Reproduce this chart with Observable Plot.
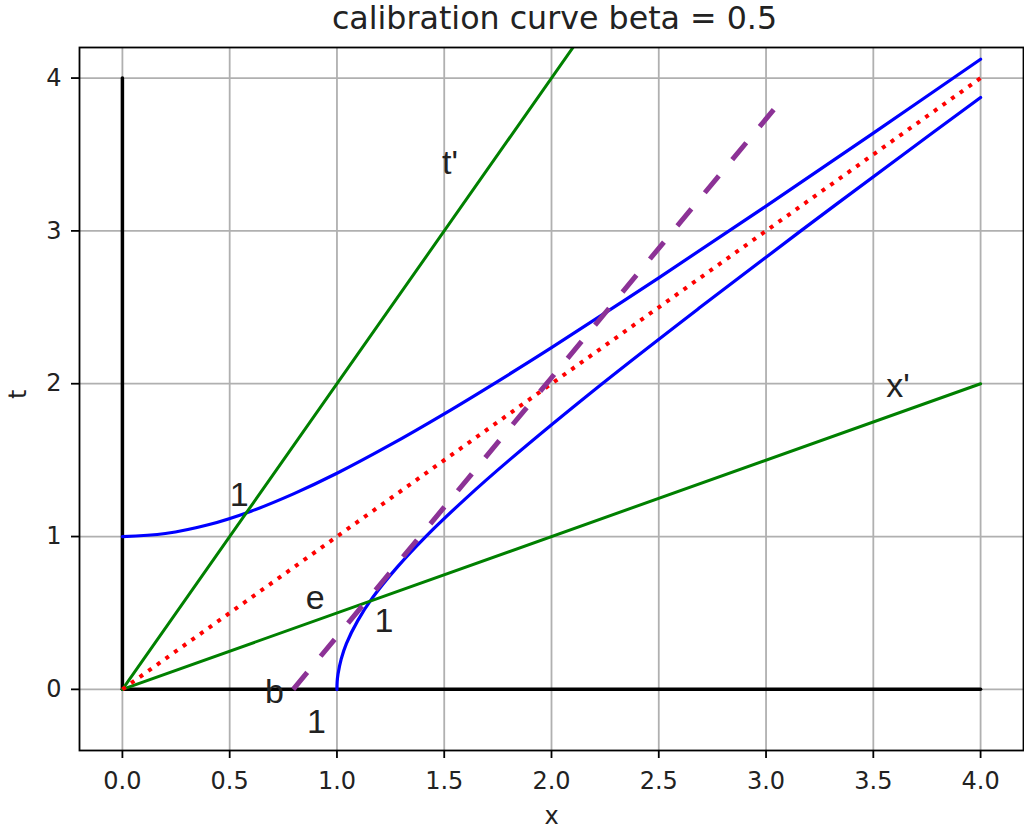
<!DOCTYPE html>
<html><head><meta charset="utf-8">
<script src="https://cdn.jsdelivr.net/npm/d3@7"></script>
<script src="https://cdn.jsdelivr.net/npm/@observablehq/plot@0.6"></script>
<style>body{margin:0;background:#fff}</style>
</head><body><div id="chart"></div>
<script>
// tick values
const xTicks = [0, 0.5, 1, 1.5, 2, 2.5, 3, 3.5, 4];
const tTicks = [0, 1, 2, 3, 4];

// upper blue hyperbola
const upperX = [0, 0.2, 0.4, 0.6, 0.8, 1.0, 1.25, 1.5, 1.75, 2.0, 2.5, 3.0, 3.5, 4.0];
const upperT = [1.000, 1.020, 1.077, 1.166, 1.281, 1.414, 1.601, 1.803, 2.016, 2.236, 2.693, 3.162, 3.640, 4.123];

// right blue hyperbola
const rightT = [0, 0.05, 0.1, 0.2, 0.3, 0.45, 0.6, 0.8, 1.0, 1.25, 1.5, 2.0, 2.5, 3.0, 3.5, 3.873];
const rightX = [1.000, 1.001, 1.005, 1.020, 1.044, 1.097, 1.166, 1.281, 1.414, 1.601, 1.803, 2.236, 2.693, 3.162, 3.640, 4.000];

// straight lines: [x0, t0, x1, t1]
const tAxisLine = [0, 0, 0, 4];
const xAxisLine = [0, 0, 4, 0];
const tPrimeLine = [0, 0, 4, 8];
const xPrimeLine = [0, 0, 4, 2];
const lightLine = [0, 0, 4, 4];
const purpleLine = [0.796, 0, 3.075, 3.86];

// annotations
const annoText = ["1", "e", "1", "b", "1", "t'", "x'"];
const annoX = [0.5, 0.855, 1.175, 0.665, 0.86, 1.49, 3.56];
const annoT = [1.2, 0.525, 0.375, -0.09, -0.285, 3.37, 1.91];

const pts = (xs, ts) => xs.map((x, i) => ({x, t: ts[i]}));
const seg = a => [{x: a[0], t: a[1]}, {x: a[2], t: a[3]}];
const upper = pts(upperX, upperT);
const right = pts(rightX, rightT);
const annos = annoText.map((s, i) => ({s, x: annoX[i], t: annoT[i]}));

const chart = Plot.plot({
  width: 1024,
  height: 830,
  marginLeft: 79,
  marginRight: 1,
  marginTop: 47,
  marginBottom: 80,
  style: {fontFamily: "DejaVu Sans", fontSize: "24px", background: "#fff", color: "#000"},
  x: {domain: [-0.2, 4.2]},
  y: {domain: [-0.4, 4.2]},
  marks: [
    Plot.ruleX(xTicks, {stroke: "#b0b0b0", strokeWidth: 1.8}),
    Plot.ruleY(tTicks, {stroke: "#b0b0b0", strokeWidth: 1.8}),
    Plot.line(seg(tAxisLine), {x: "x", y: "t", stroke: "black", strokeWidth: 3.5}),
    Plot.line(seg(xAxisLine), {x: "x", y: "t", stroke: "black", strokeWidth: 3.5}),
    Plot.line(upper, {x: "x", y: "t", stroke: "blue", strokeWidth: 3.2, curve: "catmull-rom"}),
    Plot.line(right, {x: "x", y: "t", stroke: "blue", strokeWidth: 3.2, curve: "catmull-rom"}),
    Plot.line(seg(tPrimeLine), {x: "x", y: "t", stroke: "green", strokeWidth: 3, clip: true}),
    Plot.line(seg(xPrimeLine), {x: "x", y: "t", stroke: "green", strokeWidth: 3}),
    Plot.line(seg(lightLine), {x: "x", y: "t", stroke: "red", strokeWidth: 4, strokeDasharray: "4,6.6", strokeLinecap: "butt"}),
    Plot.line(seg(purpleLine), {x: "x", y: "t", stroke: "#8c3296", strokeWidth: 5, strokeDasharray: "22,21", strokeLinecap: "butt"}),
    Plot.text(annos, {x: "x", y: "t", text: "s", textAnchor: "start", lineAnchor: "bottom", fontFamily: "Liberation Sans", fontSize: 34, fill: "#222"}),
    Plot.frame({stroke: "black", strokeWidth: 1.8}),
    Plot.axisX({ticks: xTicks, tickFormat: d3.format(".1f"), tickSize: 8, tickPadding: 13, strokeWidth: 1.8, label: null, fill: "#222"}),
    Plot.axisY({ticks: tTicks, tickFormat: d3.format("d"), tickSize: 8, tickPadding: 10, strokeWidth: 1.8, label: null, fill: "#222"}),
    Plot.text(["calibration curve beta = 0.5"], {text: d => d, frameAnchor: "top", lineAnchor: "bottom", dy: -18.5, dx: 3, fontSize: 31.7, fill: "#222"}),
    Plot.text(["x"], {text: d => d, frameAnchor: "bottom", lineAnchor: "bottom", dy: 73, fill: "#222"}),
    Plot.text(["t"], {text: d => d, frameAnchor: "left", lineAnchor: "bottom", rotate: -90, dx: -54, fill: "#222"})
  ]
});
document.getElementById("chart").appendChild(chart);
</script>
</body></html>
